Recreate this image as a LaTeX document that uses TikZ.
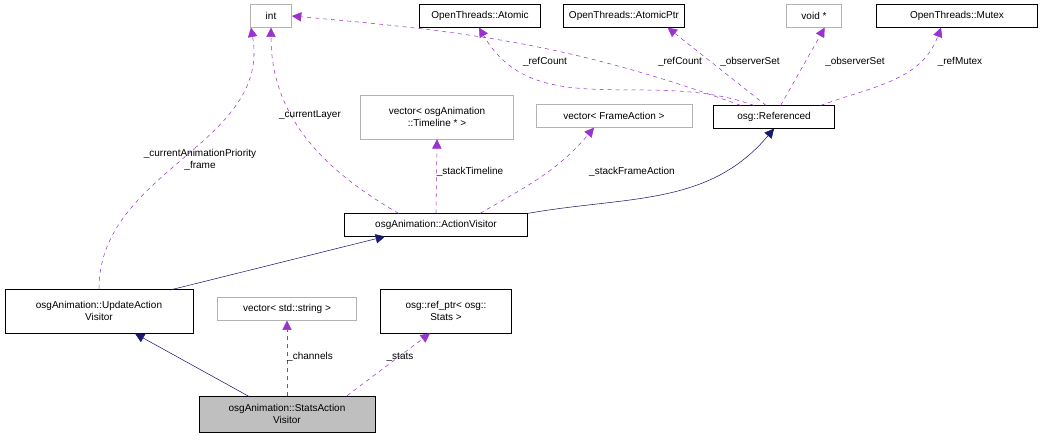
\documentclass[tikz,border=0pt]{standalone}
\usepackage{fontspec}
\setmainfont{Liberation Sans}
\usetikzlibrary{arrows.meta}
\begin{document}
\begin{tikzpicture}[x=0.75pt,y=-0.75pt,
  font=\fontsize{7.5}{9}\selectfont,
  box/.style={draw=black,fill=white,inner sep=0pt,align=center,minimum height=17pt},
  gbox/.style={box,draw=gray!60},
  inh/.style={draw={rgb,255:red,25;green,25;blue,112},-{Triangle[length=7pt,width=7pt]}},
  use/.style={draw={rgb,255:red,154;green,50;blue,205},dashed,-{Triangle[length=7pt,width=7pt]}},
  lab/.style={font=\fontsize{7.5}{9}\selectfont,align=center,inner sep=1pt}]
\useasboundingbox (0,0) rectangle (1043,440);
\node[gbox,minimum width=31pt] (int) at (271,16) {int};
\node[box,minimum width=91pt] (atom) at (480,16) {OpenThreads::Atomic};
\node[box,minimum width=91pt] (aptr) at (624,16) {OpenThreads::AtomicPtr};
\node[gbox,minimum width=41pt] (void) at (814,16) {void *};
\node[box,minimum width=121pt] (mutex) at (957,16) {OpenThreads::Mutex};
\node[box,minimum width=91pt] (ref) at (774,117) {osg::Referenced};
\node[gbox,minimum width=115pt,minimum height=33pt] (tl) at (437,117) {vector< osgAnimation\\::Timeline * >};
\node[gbox,minimum width=117pt] (fa) at (614,116) {vector< FrameAction >};
\node[box,minimum width=137pt] (av) at (436,225) {osgAnimation::ActionVisitor};
\node[box,minimum width=141pt,minimum height=33pt] (uav) at (99,311) {osgAnimation::UpdateAction\\Visitor};
\node[gbox,minimum width=104pt] (vs) at (287,309) {vector< std::string >};
\node[box,minimum width=98pt,minimum height=33pt] (rp) at (446,311) {osg::ref\_ptr< osg::\\Stats >};
\node[box,fill={rgb,255:red,191;green,191;blue,191},minimum width=132pt,minimum height=27pt] (sav) at (287,414) {osgAnimation::StatsAction\\Visitor};

\coordinate (c1) at (170,290);
\coordinate (c2) at (385,236.5);
\coordinate (c3) at (250,397);
\coordinate (c4) at (135,333.5);
\draw[inh] (av.north east) to[out=10,in=-130] (ref.south);
\draw[inh] (c1) -- (c2);
\draw[inh] (c3) -- (c4);
\draw[use] (sav.north) -- (vs.south);
\node[lab] (l0) at (310,357) {\_channels};
\draw[use] ([xshift=45pt]sav.north) -- ([xshift=-12pt]rp.south);
\node[lab] (l01) at (400,357) {\_stats};
\draw[use] (uav.north) to[out=90,in=-80] ([xshift=-15pt]int.south);
\node[lab] (l1) at (200,160) {\_currentAnimationPriority\\\_frame};
\draw[use] ([xshift=-28pt]av.north) to[out=150,in=-90] (int.south);
\node[lab] (l2) at (310,115) {\_currentLayer};
\draw[use] (av.north) -- (tl.south);
\node[lab] (l5) at (470,172) {\_stackTimeline};
\draw[use] ([xshift=33pt]av.north) to[out=30,in=-130] ([xshift=-15pt]fa.south);
\node[lab] (l6) at (632,172) {\_stackFrameAction};
\draw[use] ([xshift=-25pt]ref.north) to[out=160,in=-5] (int.east);
\node[lab] (l3) at (545,62) {\_refCount};
\draw[use] ([xshift=-15pt]ref.north) to[out=160,in=-60] ([xshift=45pt]atom.south west);
\node[lab] (l4) at (680,62) {\_refCount};
\draw[use] ([xshift=-6pt]ref.north) -- ([xshift=-13pt]aptr.south east);
\node[lab] (l7) at (750,62) {\_observerSet};
\draw[use] ([xshift=5pt]ref.north) -- ([xshift=8pt]void.south);
\node[lab] (l8) at (855,62) {\_observerSet};
\draw[use] ([xshift=35pt]ref.north) to[out=20,in=-110] ([xshift=-12pt]mutex.south);
\node[lab] (l9) at (960,62) {\_refMutex};
\end{tikzpicture}
\end{document}
